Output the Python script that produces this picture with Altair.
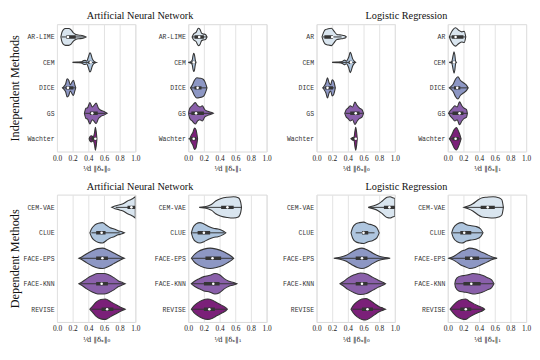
import json
import altair as alt
import pandas as pd

# ---------------- categories / labels ----------------
IND_ANN = ["AR-LIME", "CEM", "DICE", "GS", "Wachter"]
IND_LR = ["AR", "CEM", "DICE", "GS", "Wachter"]
DEP = ["CEM-VAE", "CLUE", "FACE-EPS", "FACE-KNN", "REVISE"]
COLORS = ["#d9e5ef", "#aec5de", "#8d97c4", "#8a60aa", "#7b2079"]
XTICKS = [0.0, 0.2, 0.4, 0.6, 0.8, 1.0]
XT0 = "¹⁄d ‖δₓ‖₀"
XT1 = "¹⁄d ‖δₓ‖₁"

# ---------------- violin profiles (x knots, half widths) + box [wlo, q1, med, q3, whi] ----
# Independent, ANN, L0
a0_x = [[0.05, 0.06, 0.08, 0.11, 0.15, 0.18, 0.21, 0.24, 0.28, 0.32, 0.35, 0.37],
        [0.20, 0.26, 0.31, 0.34, 0.36, 0.38, 0.40, 0.42, 0.43, 0.45, 0.47, 0.50],
        [0.07, 0.09, 0.11, 0.13, 0.15, 0.17, 0.19, 0.21, 0.23, 0.24],
        [0.35, 0.37, 0.39, 0.42, 0.45, 0.47, 0.50, 0.53, 0.56, 0.60, 0.64],
        [0.41, 0.42, 0.44, 0.46, 0.48, 0.49, 0.50, 0.51]]
a0_w = [[0, 0.15, 0.28, 0.33, 0.33, 0.28, 0.16, 0.10, 0.07, 0.06, 0.03, 0],
        [0, 0.01, 0.02, 0.07, 0.08, 0.05, 0.20, 0.38, 0.35, 0.15, 0.05, 0],
        [0, 0.06, 0.15, 0.36, 0.30, 0.12, 0.22, 0.30, 0.10, 0],
        [0, 0.20, 0.22, 0.42, 0.25, 0.30, 0.40, 0.20, 0.12, 0.07, 0],
        [0, 0.08, 0.12, 0.08, 0.25, 0.45, 0.30, 0]]
a0_box = [[0.06, 0.12, 0.14, 0.24, 0.35], [0.20, 0.40, 0.43, 0.44, 0.50],
          [0.07, 0.11, 0.14, 0.21, 0.23], [0.36, 0.42, 0.45, 0.52, 0.62],
          [0.41, 0.44, 0.49, 0.50, 0.51]]

# Independent, ANN, L1
a1_x = [[0.05, 0.07, 0.10, 0.13, 0.15, 0.17, 0.19, 0.22, 0.24],
        [0.00, 0.03, 0.05, 0.06, 0.07, 0.08, 0.09, 0.10],
        [0.03, 0.05, 0.08, 0.11, 0.15, 0.19, 0.21, 0.23, 0.24],
        [0.00, 0.02, 0.05, 0.09, 0.12, 0.15, 0.18, 0.21, 0.25, 0.30, 0.32],
        [0.02, 0.04, 0.06, 0.08, 0.10, 0.11, 0.12]]
a1_w = [[0, 0.12, 0.18, 0.34, 0.30, 0.15, 0.12, 0.10, 0],
        [0, 0.02, 0.08, 0.25, 0.36, 0.30, 0.10, 0],
        [0, 0.10, 0.30, 0.40, 0.38, 0.34, 0.26, 0.10, 0],
        [0, 0.20, 0.30, 0.42, 0.30, 0.25, 0.30, 0.15, 0.08, 0.03, 0],
        [0, 0.15, 0.25, 0.42, 0.35, 0.20, 0]]
a1_box = [[0.05, 0.08, 0.14, 0.20, 0.24], [0.00, 0.05, 0.07, 0.08, 0.10],
          [0.03, 0.08, 0.12, 0.17, 0.24], [0.00, 0.04, 0.10, 0.20, 0.30],
          [0.00, 0.03, 0.07, 0.10, 0.12]]

# Independent, LR, L0
l0_x = [[0.07, 0.09, 0.11, 0.15, 0.19, 0.22, 0.26, 0.30, 0.34, 0.37, 0.38],
        [0.20, 0.26, 0.31, 0.34, 0.36, 0.38, 0.41, 0.43, 0.44, 0.46, 0.48, 0.50],
        [0.08, 0.10, 0.12, 0.14, 0.16, 0.18, 0.20, 0.22, 0.24],
        [0.36, 0.38, 0.40, 0.43, 0.46, 0.49, 0.52, 0.55, 0.58, 0.60],
        [0.44, 0.46, 0.48, 0.49, 0.50, 0.51, 0.52]]
l0_w = [[0, 0.18, 0.28, 0.32, 0.34, 0.24, 0.10, 0.08, 0.06, 0.03, 0],
        [0, 0.01, 0.02, 0.06, 0.09, 0.05, 0.20, 0.40, 0.35, 0.15, 0.05, 0],
        [0, 0.08, 0.20, 0.40, 0.20, 0.12, 0.32, 0.25, 0],
        [0, 0.15, 0.20, 0.30, 0.25, 0.44, 0.30, 0.20, 0.15, 0],
        [0, 0.04, 0.08, 0.30, 0.45, 0.30, 0]]
l0_box = [[0.08, 0.10, 0.20, 0.21, 0.32], [0.20, 0.41, 0.44, 0.45, 0.50],
          [0.08, 0.11, 0.14, 0.21, 0.23], [0.37, 0.43, 0.50, 0.55, 0.59],
          [0.44, 0.45, 0.50, 0.50, 0.51]]

# Independent, LR, L1
l1_x = [[0.02, 0.04, 0.07, 0.10, 0.14, 0.18, 0.21, 0.23],
        [0.02, 0.05, 0.07, 0.08, 0.09, 0.10, 0.11],
        [0.02, 0.04, 0.07, 0.10, 0.13, 0.16, 0.20, 0.24, 0.26],
        [0.01, 0.03, 0.06, 0.09, 0.12, 0.15, 0.18, 0.21, 0.24, 0.25],
        [0.02, 0.05, 0.08, 0.11, 0.13, 0.15, 0.17]]
l1_w = [[0, 0.15, 0.30, 0.36, 0.26, 0.20, 0.22, 0],
        [0, 0.03, 0.30, 0.42, 0.30, 0.05, 0],
        [0, 0.05, 0.15, 0.35, 0.44, 0.30, 0.20, 0.10, 0],
        [0, 0.10, 0.20, 0.30, 0.25, 0.45, 0.30, 0.20, 0.15, 0],
        [0, 0.15, 0.35, 0.44, 0.35, 0.20, 0]]
l1_box = [[0.02, 0.05, 0.10, 0.20, 0.23], [0.02, 0.06, 0.08, 0.09, 0.11],
          [0.02, 0.08, 0.12, 0.16, 0.26], [0.01, 0.06, 0.15, 0.20, 0.25],
          [0.02, 0.06, 0.10, 0.14, 0.17]]

# Dependent, ANN, L0
b0_x = [[0.70, 0.74, 0.80, 0.85, 0.90, 0.94, 0.97, 1.00],
        [0.42, 0.44, 0.48, 0.53, 0.58, 0.63, 0.68, 0.73, 0.78, 0.83, 0.86],
        [0.28, 0.32, 0.38, 0.45, 0.52, 0.58, 0.65, 0.72, 0.78, 0.83, 0.86],
        [0.28, 0.32, 0.38, 0.45, 0.52, 0.60, 0.66, 0.72, 0.78, 0.84, 0.87],
        [0.42, 0.45, 0.50, 0.56, 0.62, 0.68, 0.74, 0.80, 0.85, 0.87]]
b0_w = [[0, 0.05, 0.10, 0.15, 0.25, 0.30, 0.35, 0.42],
        [0, 0.15, 0.30, 0.38, 0.40, 0.30, 0.20, 0.15, 0.08, 0.04, 0],
        [0, 0.06, 0.18, 0.30, 0.38, 0.40, 0.33, 0.22, 0.12, 0.04, 0],
        [0, 0.07, 0.20, 0.32, 0.40, 0.40, 0.35, 0.25, 0.12, 0.04, 0],
        [0, 0.10, 0.28, 0.38, 0.40, 0.30, 0.20, 0.10, 0.03, 0]]
b0_box = [[0.75, 0.90, 0.95, 1.00, 1.00], [0.44, 0.50, 0.57, 0.62, 0.80],
          [0.30, 0.50, 0.58, 0.65, 0.85], [0.30, 0.50, 0.57, 0.65, 0.85],
          [0.44, 0.57, 0.64, 0.72, 0.85]]

# Dependent, ANN, L1
b1_x = [[0.14, 0.20, 0.26, 0.30, 0.35, 0.42, 0.50, 0.58, 0.64, 0.67, 0.68],
        [0.04, 0.06, 0.10, 0.15, 0.20, 0.26, 0.32, 0.38, 0.44, 0.48],
        [0.04, 0.07, 0.12, 0.20, 0.28, 0.36, 0.44, 0.50, 0.55, 0.58],
        [0.04, 0.08, 0.14, 0.20, 0.28, 0.34, 0.40, 0.46, 0.52, 0.58, 0.62],
        [0.04, 0.07, 0.12, 0.18, 0.25, 0.31, 0.37, 0.43, 0.48, 0.50]]
b1_w = [[0, 0.02, 0.06, 0.12, 0.25, 0.35, 0.40, 0.42, 0.38, 0.20, 0],
        [0, 0.20, 0.35, 0.40, 0.35, 0.25, 0.18, 0.15, 0.08, 0],
        [0, 0.12, 0.25, 0.36, 0.40, 0.36, 0.28, 0.18, 0.08, 0],
        [0, 0.10, 0.20, 0.28, 0.33, 0.40, 0.35, 0.20, 0.10, 0.05, 0],
        [0, 0.12, 0.25, 0.35, 0.40, 0.35, 0.25, 0.15, 0.06, 0]]
b1_box = [[0.20, 0.42, 0.50, 0.58, 0.68], [0.05, 0.12, 0.20, 0.28, 0.46],
          [0.05, 0.22, 0.31, 0.42, 0.57], [0.05, 0.20, 0.32, 0.40, 0.62],
          [0.05, 0.20, 0.27, 0.34, 0.49]]

# Dependent, LR, L0
c0_x = [[0.66, 0.72, 0.78, 0.84, 0.90, 0.94, 0.97, 1.00],
        [0.44, 0.46, 0.50, 0.55, 0.60, 0.66, 0.72, 0.77, 0.80],
        [0.22, 0.30, 0.38, 0.45, 0.52, 0.58, 0.65, 0.72, 0.80, 0.88, 0.94],
        [0.30, 0.34, 0.40, 0.48, 0.56, 0.64, 0.72, 0.80, 0.86, 0.88],
        [0.44, 0.47, 0.52, 0.58, 0.63, 0.68, 0.74, 0.80, 0.85, 0.88]]
c0_w = [[0, 0.05, 0.12, 0.25, 0.40, 0.42, 0.38, 0.35],
        [0, 0.20, 0.35, 0.40, 0.42, 0.35, 0.30, 0.20, 0],
        [0, 0.04, 0.12, 0.25, 0.36, 0.40, 0.33, 0.20, 0.08, 0.03, 0],
        [0, 0.08, 0.22, 0.35, 0.42, 0.38, 0.25, 0.12, 0.04, 0],
        [0, 0.15, 0.30, 0.40, 0.42, 0.35, 0.22, 0.10, 0.04, 0]]
c0_box = [[0.68, 0.86, 0.93, 1.00, 1.00], [0.50, 0.58, 0.60, 0.66, 0.74],
          [0.24, 0.50, 0.58, 0.65, 0.92], [0.32, 0.50, 0.58, 0.65, 0.86],
          [0.46, 0.58, 0.65, 0.72, 0.86]]

# Dependent, LR, L1
c1_x = [[0.21, 0.26, 0.32, 0.38, 0.44, 0.50, 0.58, 0.65, 0.69, 0.71],
        [0.05, 0.07, 0.12, 0.18, 0.24, 0.30, 0.36, 0.42, 0.45],
        [0.01, 0.05, 0.10, 0.16, 0.22, 0.28, 0.35, 0.42, 0.50, 0.56, 0.63],
        [0.09, 0.10, 0.14, 0.20, 0.26, 0.32, 0.38, 0.44, 0.50, 0.56, 0.59],
        [0.03, 0.07, 0.12, 0.18, 0.23, 0.28, 0.34, 0.40, 0.45, 0.47]]
c1_w = [[0, 0.05, 0.14, 0.28, 0.38, 0.40, 0.42, 0.38, 0.30, 0],
        [0, 0.18, 0.35, 0.40, 0.32, 0.28, 0.25, 0.15, 0],
        [0, 0.04, 0.12, 0.25, 0.33, 0.40, 0.36, 0.26, 0.15, 0.06, 0],
        [0, 0.15, 0.28, 0.32, 0.35, 0.40, 0.38, 0.33, 0.25, 0.15, 0],
        [0, 0.15, 0.30, 0.38, 0.40, 0.30, 0.20, 0.12, 0.05, 0]]
c1_box = [[0.22, 0.42, 0.51, 0.60, 0.71], [0.06, 0.16, 0.21, 0.30, 0.44],
          [0.02, 0.22, 0.30, 0.40, 0.62], [0.10, 0.20, 0.30, 0.42, 0.58],
          [0.04, 0.16, 0.23, 0.30, 0.46]]

EDGE = "#353535"
MONO = "Liberation Mono"
SERIF = "Liberation Serif"


def panel(names, xs, ws, boxes, xtitle, ytitle):
    rows = []
    for i, (xl, wl) in enumerate(zip(xs, ws)):
        for x, w in zip(xl, wl):
            rows.append({"m": names[i], "k": i, "x": x, "lo": i - w, "hi": i + w})
    vdf = pd.DataFrame(rows)
    bdf = pd.DataFrame([{"m": names[i], "k": i, "wlo": b[0], "q1": b[1],
                         "med": b[2], "q3": b[3], "whi": b[4]}
                        for i, b in enumerate(boxes)])

    label_expr = json.dumps(names) + "[datum.value]"
    yaxis = alt.Axis(values=[0, 1, 2, 3, 4], labelExpr=label_expr, grid=False,
                     ticks=False, domain=False, labelFont=MONO, labelFontSize=6.6,
                     labelFontWeight="normal", labelColor="#333333", labelPadding=3,
                     minExtent=35, maxExtent=35,
                     title=ytitle, titleFont=SERIF, titleFontSize=12.5,
                     titleFontWeight="normal", titleColor="#111", titlePadding=1)
    yscale = alt.Scale(domain=[-0.5, 4.5], reverse=True, nice=False, zero=False)
    xaxis = alt.Axis(values=XTICKS, format=".1f", grid=True, gridColor="#e2e2e2",
                     gridWidth=1, ticks=False, domain=False, labelFont=SERIF,
                     labelFontSize=7.5, labelColor="#222", labelFlush=False,
                     labelPadding=3, title=xtitle, titleFont="DejaVu Serif",
                     titleFontSize=7, titleFontWeight="normal", titleColor="#222",
                     titlePadding=3)
    xscale = alt.Scale(domain=[0, 1], nice=False)

    def X(f):
        return alt.X(f, scale=xscale, axis=xaxis)

    def Y(f):
        return alt.Y(f, scale=yscale, axis=yaxis)

    violins = alt.Chart(vdf).mark_area(
        stroke=EDGE, strokeWidth=1.1, interpolate="monotone", opacity=1, clip=True
    ).encode(
        x=X("x:Q"), y=Y("lo:Q"), y2="hi:Q",
        color=alt.Color("k:O", scale=alt.Scale(domain=[0, 1, 2, 3, 4], range=COLORS),
                        legend=None),
        detail="m:N",
    )
    whisk = alt.Chart(bdf).mark_rule(color=EDGE, strokeWidth=1, clip=True).encode(
        x=X("wlo:Q"), x2="whi:Q", y=Y("k:Q"))
    box = alt.Chart(bdf).mark_rule(color=EDGE, strokeWidth=3.5, clip=True).encode(
        x=X("q1:Q"), x2="q3:Q", y=Y("k:Q"))
    med = alt.Chart(bdf).mark_circle(color="white", size=7, opacity=1, clip=True).encode(
        x=X("med:Q"), y=Y("k:Q"))
    return alt.layer(violins, whisk, box, med).properties(width=80, height=130)


def ttl(t):
    return alt.Title(t, font=SERIF, fontSize=10.5, fontWeight="normal", color="#111",
                     anchor="middle", offset=2)


r1 = alt.hconcat(
    alt.hconcat(panel(IND_ANN, a0_x, a0_w, a0_box, XT0, "Independent Methods"),
                panel(IND_ANN, a1_x, a1_w, a1_box, XT1, ""),
                spacing=12, title=ttl("Artificial Neural Network")),
    alt.hconcat(panel(IND_LR, l0_x, l0_w, l0_box, XT0, ""),
                panel(IND_LR, l1_x, l1_w, l1_box, XT1, ""),
                spacing=12, title=ttl("Logistic Regression")),
    spacing=9,
)
r2 = alt.hconcat(
    alt.hconcat(panel(DEP, b0_x, b0_w, b0_box, XT0, "Dependent Methods"),
                panel(DEP, b1_x, b1_w, b1_box, XT1, ""),
                spacing=12, title=ttl("Artificial Neural Network")),
    alt.hconcat(panel(DEP, c0_x, c0_w, c0_box, XT0, ""),
                panel(DEP, c1_x, c1_w, c1_box, XT1, ""),
                spacing=12, title=ttl("Logistic Regression")),
    spacing=9,
)

chart = alt.vconcat(r1, r2, spacing=10).properties(
    padding={"left": 0, "top": 0, "right": 0, "bottom": 0}, background="white"
).configure_view(stroke="#d9d9d9", strokeWidth=1)

chart.save("out.html", embed_options={"renderer": "svg", "actions": False})
